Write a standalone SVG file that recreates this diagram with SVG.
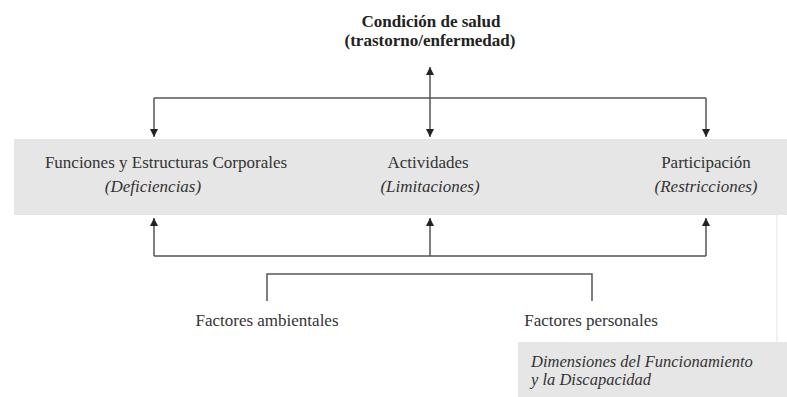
<svg xmlns="http://www.w3.org/2000/svg" width="787" height="397" viewBox="0 0 787 397">
<style>
.t{font-family:'Liberation Serif','DejaVu Serif',serif;font-size:17px;fill:#333;}
.i{font-style:italic;}
.b{font-weight:bold;fill:#222;}
.c{text-anchor:middle;}
.ln{fill:none;stroke:#555;stroke-width:1.5;}
.band{fill:#e6e6e6;}
</style>
<defs>
<marker id="ah" viewBox="0 0 10 10" refX="10" refY="5" markerWidth="8" markerHeight="8" markerUnits="userSpaceOnUse" orient="auto-start-reverse">
<path d="M0,0 L10,5 L0,10 Z" fill="#222"/>
</marker>
</defs>
<rect width="787" height="397" fill="#fff"/>
<g id="band-bg"><rect class="band" x="14" y="139" width="773" height="76"/></g>
<line x1="777" y1="215" x2="777" y2="342" stroke="#ececec" stroke-width="1.5"/>
<g id="condicion">
<text class="t b c" x="431" y="27">Condición de salud</text>
<text class="t b c" x="430" y="46">(trastorno/enfermedad)</text>
</g>
<g id="funciones">
<text class="t c" x="166" y="168">Funciones y Estructuras Corporales</text>
<text class="t i c" x="153" y="192">(Deficiencias)</text>
</g>
<g id="actividades">
<text class="t c" x="428" y="168">Actividades</text>
<text class="t i c" x="430" y="192">(Limitaciones)</text>
</g>
<g id="participacion">
<text class="t c" x="706" y="168">Participación</text>
<text class="t i c" x="706" y="192">(Restricciones)</text>
</g>
<g id="ambientales"><text class="t c" x="267" y="326">Factores ambientales</text></g>
<g id="personales"><text class="t c" x="591" y="326">Factores personales</text></g>
<g id="dimensiones">
<rect class="band" x="518" y="342" width="269" height="55"/>
<text class="t i" x="531" y="367" style="font-size:16.5px">Dimensiones del Funcionamiento</text>
<text class="t i" x="531" y="385" style="font-size:16.5px">y la Discapacidad</text>
</g>
<g id="connectors">
<path class="ln" d="M154,98 L154,137" marker-end="url(#ah)"/>
<path class="ln" d="M706,98 L706,137" marker-end="url(#ah)"/>
<path class="ln" d="M154,98 L706,98"/>
<path class="ln" d="M430,67 L430,137" marker-start="url(#ah)" marker-end="url(#ah)"/>
<path class="ln" d="M154,256 L154,218" marker-end="url(#ah)"/>
<path class="ln" d="M706,256 L706,218" marker-end="url(#ah)"/>
<path class="ln" d="M430,256 L430,218" marker-end="url(#ah)"/>
<path class="ln" d="M154,256 L706,256"/>
<path class="ln" d="M267,301 L267,274 L592,274 L592,301"/>
</g>
</svg>
